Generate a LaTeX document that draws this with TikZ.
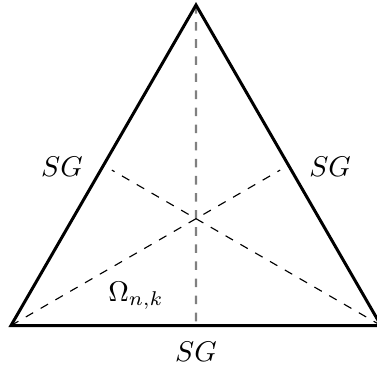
\documentclass[tikz,border=0pt]{standalone}
\usetikzlibrary{calc}
\begin{document}
\begin{tikzpicture}[x=0.351pt,y=-0.351pt,
  side/.style={line width=1.05pt},
  median/.style={dashed,line width=0.4pt},
  vmedian/.style={dashed,gray,line width=0.75pt},
  lbl/.style={inner sep=0pt}]
\useasboundingbox (0,0) rectangle (377,366);
\coordinate (A) at (11,325.5);
\coordinate (B) at (381,325.5);
\coordinate (C) at (196,5);
\coordinate (mAB) at ($(A)!0.5!(B)$);
\coordinate (mBC) at ($(B)!0.5!(C)$);
\coordinate (mCA) at ($(C)!0.5!(A)$);
\coordinate (eA) at ($(A)!0.97!(mBC)$);
\coordinate (eB) at ($(B)!0.97!(mCA)$);
\begin{scope}
\clip (0,0) rectangle (377,366);
\draw[vmedian] (C) -- (mAB);
\draw[median] (A) -- (eA);
\draw[median] (B) -- (eB);
\draw[side] (A) -- (B) -- (C) -- cycle;
\end{scope}
\node[lbl] (l1) at (62,167) {$SG$};
\node[lbl] (l2) at (330,167) {$SG$};
\node[lbl] (l3) at (196,352) {$SG$};
\node[lbl] (om) at (136,296) {$\Omega_{n,k}$};
\end{tikzpicture}
\end{document}
